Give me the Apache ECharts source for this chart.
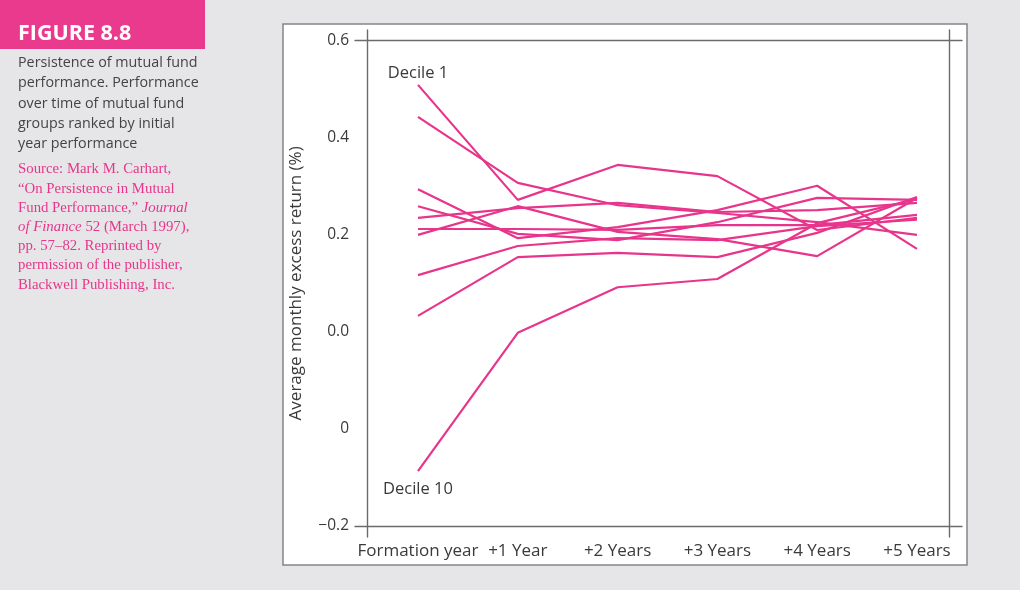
<!DOCTYPE html>
<html>
<head>
<meta charset="utf-8">
<script src="https://cdn.jsdelivr.net/npm/echarts@6/dist/echarts.min.js"></script>
<style>
  html, body { margin: 0; padding: 0; background: #ffffff; }
  #chart { width: 1024px; height: 600px; }
</style>
</head>
<body>
<div id="chart"></div>
<script>
// ---- data ----
const xLabels = ["Formation year", "+1 Year", "+2 Years", "+3 Years", "+4 Years", "+5 Years"];
const yTickLabels = ["\u22120.2", "0", "0.0", "0.2", "0.4", "0.6"];
const yTickValues = [-0.4, -0.2, 0.0, 0.2, 0.4, 0.6];

const decile1  = [0.509, 0.272, 0.344, 0.321, 0.210, 0.235];
const decile2  = [0.443, 0.307, 0.261, 0.245, 0.226, 0.200];
const decile3  = [0.294, 0.193, 0.216, 0.251, 0.301, 0.171];
const decile4  = [0.259, 0.202, 0.189, 0.226, 0.276, 0.272];
const decile5  = [0.235, 0.255, 0.266, 0.247, 0.251, 0.266];
const decile6  = [0.212, 0.212, 0.210, 0.220, 0.220, 0.241];
const decile7  = [0.200, 0.259, 0.206, 0.191, 0.156, 0.276];
const decile8  = [0.117, 0.177, 0.193, 0.189, 0.218, 0.231];
const decile9  = [0.033, 0.154, 0.163, 0.154, 0.204, 0.278];
const decile10 = [-0.287, -0.002, 0.092, 0.109, 0.224, 0.274];

const deciles = [decile1, decile2, decile3, decile4, decile5, decile6, decile7, decile8, decile9, decile10];
const decileNames = ["Decile 1", "Decile 2", "Decile 3", "Decile 4", "Decile 5", "Decile 6", "Decile 7", "Decile 8", "Decile 9", "Decile 10"];

const captionLines = [
  "Persistence of mutual fund",
  "performance. Performance",
  "over time of mutual fund",
  "groups ranked by initial",
  "year performance"
];
const sourceLines = [
  "Source: Mark M. Carhart,",
  "\u201COn Persistence in Mutual",
  "Fund Performance,\u201D {i|Journal}",
  "{i|of Finance} 52 (March 1997),",
  "pp. 57\u201382. Reprinted by",
  "permission of the publisher,",
  "Blackwell Publishing, Inc."
];

// ---- style ----
const PINK = "#E8358C";
const AXIS = "#6b6b6b";
const TEXT = "#3a3a3a";
const FONT = "'Open Sans', 'DejaVu Sans', sans-serif";
const SERIF = "'Liberation Serif', 'DejaVu Serif', serif";

const chart = echarts.init(document.getElementById('chart'), null, { renderer: 'canvas' });

const lineSeries = deciles.map((d, k) => ({
  name: decileNames[k],
  type: 'line',
  xAxisIndex: 0,
  yAxisIndex: 0,
  data: d.map((v, i) => [i, v]),
  symbol: 'circle',
  symbolSize: 0,
  showSymbol: true,
  silent: true,
  itemStyle: { color: PINK },
  lineStyle: { color: PINK, width: 2.2 },
  label: {
    show: k === 0 || k === 9,
    position: k === 0 ? 'top' : 'bottom',
    distance: k === 0 ? 3 : 10,
    color: TEXT,
    fontFamily: FONT,
    fontSize: 16.5,
    formatter: (p) => (p.dataIndex === 0 ? decileNames[k] : '')
  }
}));

const option = {
  backgroundColor: '#ffffff',
  animation: false,
  graphic: [
    { type: 'rect', z: -10, shape: { x: 0, y: 0, width: 1020, height: 590 }, style: { fill: '#e6e6e8' } },
    { type: 'rect', z: -9, shape: { x: 283, y: 24, width: 684, height: 541 }, style: { fill: '#ffffff', stroke: '#858585', lineWidth: 1.5 } },
    { type: 'rect', z: -9, shape: { x: 0, y: 0, width: 205, height: 49 }, style: { fill: '#EA3A8D' } },
    { type: 'text', left: 18, top: 23, style: { text: 'FIGURE 8.8', fill: '#ffffff', font: "bold 21.5px " + FONT } },
    { type: 'text', left: 18, top: 53, style: { text: captionLines.join('\n'), fill: '#444444', fontFamily: FONT, fontSize: 14.3, lineHeight: 20.2 } },
    { type: 'text', left: 18, top: 160, style: {
        text: sourceLines.join('\n'), fill: PINK,
        fontFamily: SERIF, fontSize: 14.8, lineHeight: 19.2,
        rich: { i: { fontStyle: 'italic', fill: PINK, fontFamily: SERIF, fontSize: 14.8, lineHeight: 19.2 } }
      } }
  ],
  grid: [
    { left: 355, right: 62, top: 40.7, bottom: 74 },
    { left: 367, right: 75, top: 30, bottom: 63 }
  ],
  xAxis: [
    {
      gridIndex: 0, type: 'value', position: 'bottom',
      min: -0.631, max: 5.451,
      axisLine: { show: true, onZero: false, lineStyle: { color: AXIS, width: 1.4 } },
      axisTick: { show: false },
      splitLine: { show: false },
      axisLabel: {
        customValues: [0, 1, 2, 3, 4, 5],
        formatter: (v) => xLabels[Math.round(v)],
        color: TEXT, fontFamily: FONT, fontSize: 17, margin: 17
      }
    },
    {
      gridIndex: 0, type: 'value', position: 'top',
      min: -0.631, max: 5.451,
      axisLine: { show: true, onZero: false, lineStyle: { color: AXIS, width: 1.4 } },
      axisTick: { show: false }, axisLabel: { show: false }, splitLine: { show: false }
    },
    {
      gridIndex: 1, type: 'value', min: 0, max: 1, show: false
    }
  ],
  yAxis: [
    {
      gridIndex: 0, type: 'value',
      min: -0.4, max: 0.6, interval: 0.2,
      axisLine: { show: false }, axisTick: { show: false }, splitLine: { show: false },
      axisLabel: {
        formatter: (v) => {
          const idx = yTickValues.findIndex(t => Math.abs(t - v) < 1e-6);
          return idx >= 0 ? yTickLabels[idx] : '';
        },
        color: TEXT, fontFamily: FONT, fontSize: 15.5, margin: 6
      },
      name: 'Average monthly excess return (%)',
      nameLocation: 'middle',
      nameGap: 50,
      nameTextStyle: { color: TEXT, fontFamily: FONT, fontSize: 17 }
    },
    {
      gridIndex: 1, type: 'value', position: 'left', min: 0, max: 1,
      axisLine: { show: true, onZero: false, lineStyle: { color: AXIS, width: 1.4 } },
      axisTick: { show: false }, axisLabel: { show: false }, splitLine: { show: false }
    },
    {
      gridIndex: 1, type: 'value', position: 'right', min: 0, max: 1,
      axisLine: { show: true, onZero: false, lineStyle: { color: AXIS, width: 1.4 } },
      axisTick: { show: false }, axisLabel: { show: false }, splitLine: { show: false }
    }
  ],
  series: lineSeries
};

chart.setOption(option);
</script>
</body>
</html>
